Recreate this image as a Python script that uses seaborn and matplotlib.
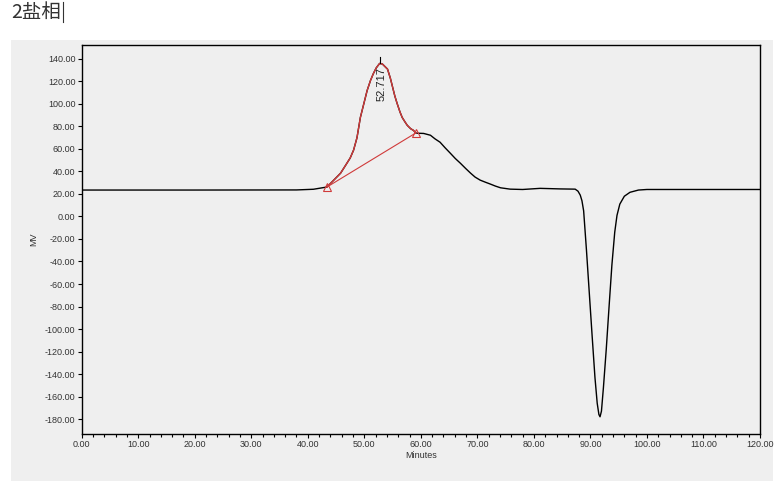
import numpy as np
import pandas as pd
import matplotlib
matplotlib.use("Agg")
import matplotlib.pyplot as plt
import seaborn as sns
from matplotlib.lines import Line2D
from matplotlib.patches import Rectangle
from matplotlib.ticker import MultipleLocator, FormatStrFormatter

# ---- data ----
trace_time = [0, 20, 38, 41, 43.4, 45.8, 46.7, 47.5, 48.1, 48.7, 49.3, 49.9, 50.5,
              51.1, 51.6, 52.1, 52.7, 53.2, 53.7, 54.1, 54.6, 55.0, 55.4, 55.8,
              56.3, 56.7, 57.2, 57.6, 58.2, 58.7, 59.1, 59.4, 60.5, 61.7, 62.5,
              63.4, 64.3, 65.2, 66.1, 67.0, 67.9, 68.8, 69.6, 70.5, 71.4, 72.3,
              73.2, 74.1, 75.8, 78.0, 81.1, 84.7, 87.3, 87.8, 88.2, 88.5, 88.8,
              89.3, 89.8, 90.3, 90.8, 91.2, 91.5, 91.7, 91.95, 92.3, 92.8, 93.3,
              93.8, 94.3, 94.7, 95.2, 96.0, 97.0, 98.5, 100, 120]
trace_mv = [23.5, 23.5, 23.6, 24.2, 26.2, 38.5, 45.6, 52, 59, 70, 88, 100, 112,
            121, 127, 132, 136, 135.5, 133, 131, 123, 115, 107, 100.5,
            93, 88, 84, 81, 78, 76.5, 74.2, 74, 73.8, 72.2, 69,
            66, 61, 56.3, 51.5, 47.3, 42.8, 38.5, 35, 32.3, 30.5, 28.8,
            27, 25.5, 24.3, 24, 25, 24.5, 24.3, 22.5, 19, 14, 5,
            -30, -68, -106, -143, -166, -176, -178, -173, -152, -118, -80,
            -43, -14, 1, 11, 18, 21.5, 23.5, 24, 24]

peak_time = [43.4, 45.8, 46.7, 47.5, 48.1, 48.7, 49.3, 49.9, 50.5, 51.1, 51.6,
             52.1, 52.7, 53.2, 53.7, 54.1, 54.6, 55.0, 55.4, 55.8, 56.3, 56.7,
             57.2, 57.6, 58.2, 58.7, 59.1]
peak_mv = [26.2, 38.5, 45.6, 52, 59, 70, 88, 100, 112, 121, 127,
           132, 136, 135.5, 133, 131, 123, 115, 107, 100.5, 93, 88,
           84, 81, 78, 76.5, 74.2]

base_time = [43.4, 59.1]
base_mv = [26.2, 74.2]
peak_rt = 52.717
peak_label = "52.717"

x_ticks = list(range(0, 121, 10))
y_ticks = list(range(-180, 141, 20))

trace = pd.DataFrame({"Minutes": trace_time, "MV": trace_mv})
peak = pd.DataFrame({"Minutes": peak_time, "MV": peak_mv})
base = pd.DataFrame({"Minutes": base_time, "MV": base_mv})

# ---- figure ----
fig = plt.figure(figsize=(7.83, 4.88), dpi=100, facecolor="white")
W, H = 783, 488
panel = Rectangle((11 / W, 1 - 481 / H), (773 - 11) / W, (481 - 40) / H,
                  transform=fig.transFigure, facecolor="#efefef",
                  edgecolor="none", zorder=-10)
fig.add_artist(panel)
ax = fig.add_axes([81.7 / W, 1 - 434 / H, (760 - 81.7) / W, (434 - 45) / H])
ax.set_zorder(1)
ax.set_facecolor("#efefef")

red = "#d03a3a"
sns.lineplot(data=trace, x="Minutes", y="MV", ax=ax, color="black", lw=1.0,
             sort=False, estimator=None)
sns.lineplot(data=peak, x="Minutes", y="MV", ax=ax, color=red, lw=1.0,
             sort=False, estimator=None)
sns.lineplot(data=base, x="Minutes", y="MV", ax=ax, color=red, lw=0.8,
             sort=False, estimator=None, marker="^", markersize=6,
             markerfacecolor="none", markeredgecolor=red, markeredgewidth=0.8)

# retention time marker and label
ax.plot([peak_rt, peak_rt], [136, 142], color="black", lw=0.8)
ax.text(peak_rt + 0.3, 133, peak_label, rotation=90, ha="center", va="top",
        fontsize=8, family="Liberation Sans", color="#222222")

ax.set_xlim(0, 120)
ax.set_ylim(-193.3, 152.4)
ax.set_xticks(x_ticks)
ax.set_yticks(y_ticks)
ax.xaxis.set_minor_locator(MultipleLocator(2))
ax.xaxis.set_major_formatter(FormatStrFormatter("%.2f"))
ax.yaxis.set_major_formatter(FormatStrFormatter("%.2f"))
ax.tick_params(axis="both", which="major", direction="out", length=3, width=0.8,
               labelsize=6.5, colors="black", labelcolor="#333333", pad=1.5)
ax.tick_params(axis="x", which="minor", direction="out", length=2.5, width=0.8)
for lab in ax.get_xticklabels() + ax.get_yticklabels():
    lab.set_family("Liberation Sans")
for s in ax.spines.values():
    s.set_color("black")
    s.set_linewidth(1.0)
    s.set_visible(True)

ax.set_xlabel("Minutes", fontsize=6.5, family="Liberation Sans", color="#333333", labelpad=1)
ax.set_ylabel("MV", fontsize=6.5, family="Liberation Sans", color="#333333", labelpad=5)

fig.text(11 / W, 1 - 12 / H, "2盐相", ha="left", va="center", fontsize=14,
         family=["Noto Sans CJK SC", "DejaVu Sans"], color="#333333")
fig.add_artist(Line2D([63 / W, 63 / W], [1 - 22 / H, 1 - 2 / H],
                      transform=fig.transFigure, color="#333333", lw=0.8))

fig.savefig("out.png", dpi=100, facecolor="white")
